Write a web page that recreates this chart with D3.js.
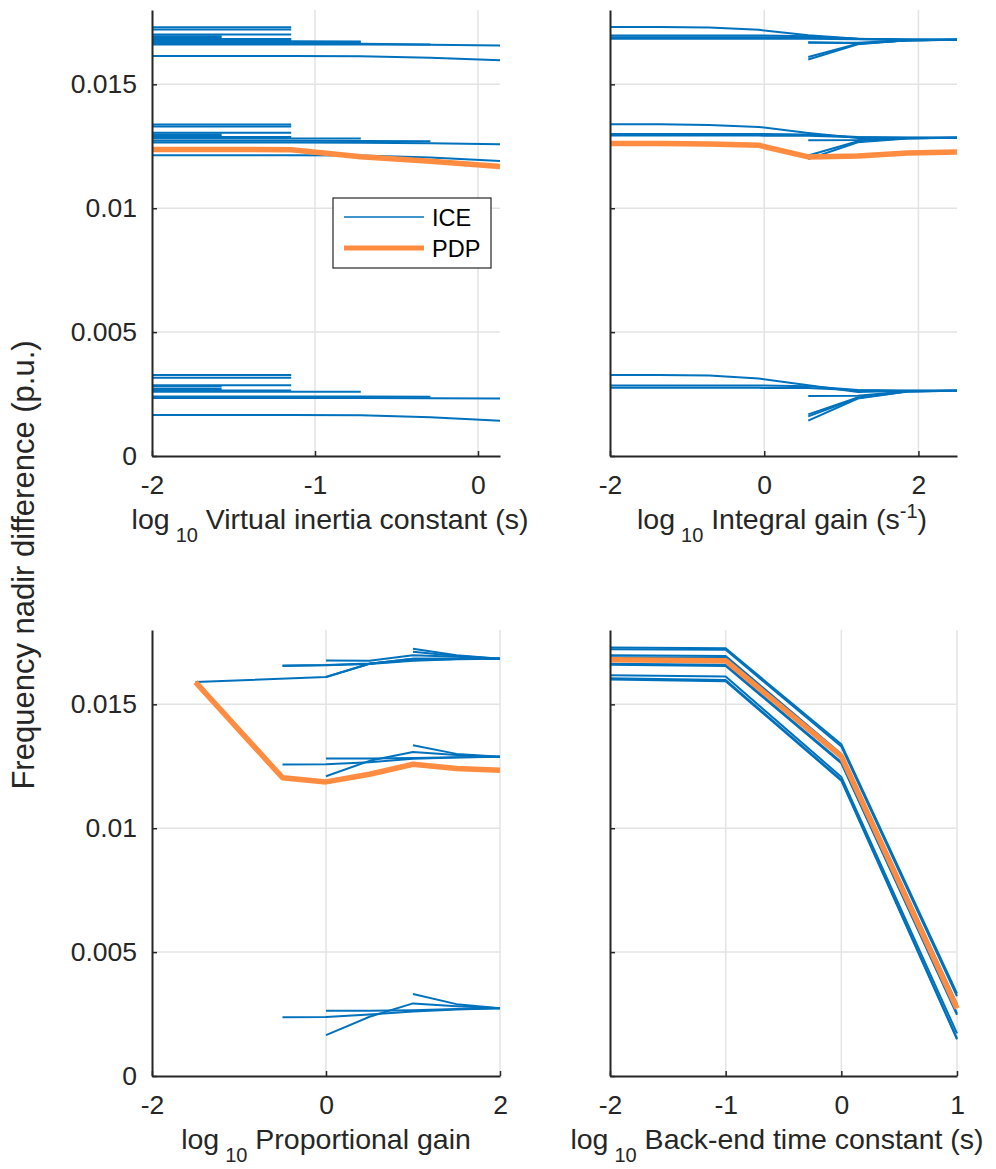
<!DOCTYPE html>
<html><head><meta charset="utf-8">
<script src="https://cdn.jsdelivr.net/npm/d3@7"></script>
<style>
body{margin:0;background:#fff;}
svg{display:block;font-family:"Liberation Sans",Arial,Helvetica,sans-serif;}
</style></head><body>
<svg id="chart" width="996" height="1169"></svg>
<script>
// ---------------- data ----------------
const yTicks = [0, 0.005, 0.01, 0.015];

// Virtual inertia constant (log10 s)
const viGrid = [-2, -1.573, -1.146, -0.719, -0.292, 0.135];
const viTicks = [-2, -1, 0];
const viIce = [
  [0.01730, 0.01730, 0.01730],
  [0.01721, 0.01721, 0.01721],
  [0.01701, 0.01701, 0.01701],
  [0.01694, 0.01694],
  [0.01689, 0.01689],
  [0.01683, 0.01683, 0.01683],
  [0.01677, 0.01677, 0.01677],
  [0.01674, 0.01674, 0.01674, 0.01673],
  [0.01669, 0.01669, 0.01669, 0.01668],
  [0.01665, 0.01665, 0.01665, 0.01664, 0.01661],
  [0.01661, 0.01661, 0.01661, 0.01661, 0.01660, 0.01657],
  [0.01614, 0.01614, 0.01614, 0.01613, 0.01607, 0.01597],
  [0.01338, 0.01338, 0.01338],
  [0.01330, 0.01330, 0.01330],
  [0.01305, 0.01305, 0.01305],
  [0.01298, 0.01298],
  [0.01291, 0.01291],
  [0.01287, 0.01287, 0.01287],
  [0.01281, 0.01281, 0.01281, 0.01281],
  [0.01272, 0.01272, 0.01272, 0.01271, 0.01270],
  [0.01265, 0.01265, 0.01265, 0.01264, 0.01262, 0.01258],
  [0.01214, 0.01214, 0.01214, 0.01213, 0.01205, 0.01191],
  [0.00327, 0.00327, 0.00327],
  [0.00316, 0.00316, 0.00316],
  [0.00286, 0.00286, 0.00286],
  [0.00280, 0.00280],
  [0.00270, 0.00270],
  [0.00264, 0.00264, 0.00264],
  [0.00259, 0.00259, 0.00259, 0.00259],
  [0.00240, 0.00240, 0.00240, 0.00240, 0.00239],
  [0.00234, 0.00234, 0.00234, 0.00234, 0.00233, 0.00232],
  [0.00165, 0.00165, 0.00165, 0.00164, 0.00156, 0.00142]
];
const viPdp = [0.01237, 0.01237, 0.01236, 0.01208, 0.01190, 0.01168];

// Integral gain (log10 1/s)
const igGrid = [-2, -1.357, -0.714, -0.071, 0.571, 1.214, 1.857, 2.5];
const igTicks = [-2, 0, 2];
const igIce = [
  [0.01731, 0.01731, 0.01729, 0.01720, 0.01698, 0.01684, 0.01681, 0.01680],
  [0.01697, 0.01697, 0.01697, 0.01697, 0.01694, 0.01683, 0.01680, 0.01680],
  [0.01690, 0.01690, 0.01690, 0.01690, 0.01689, 0.01684, 0.01680, 0.01680],
  [0.01684, 0.01684, 0.01684, 0.01684, 0.01684, 0.01682, 0.01680, 0.01680],
  [null, null, null, null, 0.01668, 0.01668, 0.01677, 0.01680],
  [null, null, null, null, 0.01670, 0.01666, 0.01677, 0.01680],
  [null, null, null, null, 0.01610, 0.01664, 0.01678, 0.01680],
  [null, null, null, null, 0.01600, 0.01662, 0.01678, 0.01680],
  [0.01339, 0.01339, 0.01336, 0.01328, 0.01304, 0.01283, 0.01284, 0.01284],
  [0.01300, 0.01300, 0.01300, 0.01300, 0.01298, 0.01287, 0.01284, 0.01284],
  [0.01293, 0.01293, 0.01293, 0.01293, 0.01292, 0.01286, 0.01284, 0.01284],
  [null, null, null, null, 0.01274, 0.01275, 0.01282, 0.01284],
  [null, null, null, null, 0.01213, 0.01270, 0.01282, 0.01284],
  [null, null, null, null, 0.01198, 0.01266, 0.01281, 0.01284],
  [0.00327, 0.00327, 0.00325, 0.00313, 0.00286, 0.00258, 0.00263, 0.00263],
  [0.00285, 0.00285, 0.00285, 0.00285, 0.00282, 0.00266, 0.00263, 0.00263],
  [0.00275, 0.00275, 0.00275, 0.00275, 0.00274, 0.00265, 0.00263, 0.00263],
  [null, null, null, null, 0.00242, 0.00243, 0.00261, 0.00263],
  [null, null, null, null, 0.00168, 0.00236, 0.00261, 0.00263],
  [null, null, null, null, 0.00160, 0.00234, 0.00260, 0.00263],
  [null, null, null, null, 0.00143, 0.00232, 0.00260, 0.00263]
];
const igPdp = [0.01261, 0.01261, 0.01259, 0.01254, 0.01207, 0.01211, 0.01223, 0.01227];

// Proportional gain (log10)
const pgGrid = [-1.5, -0.5, 0, 0.5, 1, 1.5, 2];
const pgTicks = [-2, 0, 2];
const pgIce = [
  [0.01590, null, 0.01610, 0.01664, 0.01684, 0.01684, 0.01684],
  [null, null, 0.01610, 0.01664, 0.01684, 0.01684, 0.01684],
  [null, 0.01657, 0.01659, 0.01665, 0.01678, 0.01683, 0.01684],
  [null, 0.01655, 0.01658, 0.01663, 0.01676, 0.01682, 0.01684],
  [null, null, 0.01677, 0.01676, 0.01698, 0.01692, 0.01684],
  [null, null, null, null, 0.01724, 0.01698, 0.01684],
  [null, null, null, null, 0.01712, 0.01695, 0.01684],
  [null, 0.01257, 0.01258, 0.01266, 0.01280, 0.01285, 0.01288],
  [null, null, 0.01281, 0.01281, 0.01283, 0.01286, 0.01288],
  [null, null, 0.01210, 0.01272, 0.01308, 0.01296, 0.01288],
  [null, null, null, null, 0.01335, 0.01300, 0.01288],
  [null, 0.00237, 0.00238, 0.00248, 0.00260, 0.00268, 0.00273],
  [null, null, 0.00263, 0.00263, 0.00265, 0.00270, 0.00273],
  [null, null, 0.00165, 0.00239, 0.00293, 0.00282, 0.00273],
  [null, null, null, null, 0.00331, 0.00290, 0.00273]
];
const pgPdp = [0.01590, 0.01204, 0.01187, 0.01218, 0.01258, 0.01241, 0.01234];

// Back-end time constant (log10 s)
const btGrid = [-2, -1, 0, 1];
const btTicks = [-2, -1, 0, 1];
const btIce = [
  [0.01729, 0.01726, 0.01339, 0.00333],
  [0.01722, 0.01720, 0.01330, 0.00322],
  [0.01698, 0.01695, 0.01300, 0.00290],
  [0.01690, 0.01688, 0.01295, 0.00282],
  [0.01664, 0.01660, 0.01267, 0.00253],
  [0.01660, 0.01655, 0.01262, 0.00247],
  [0.01617, 0.01612, 0.01207, 0.00172],
  [0.01605, 0.01598, 0.01196, 0.00152],
  [0.01600, 0.01593, 0.01192, 0.00148]
];
const btPdp = [0.01680, 0.01676, 0.01290, 0.00273];

const legendLabels = ["ICE", "PDP"];
const yLabel = "Frequency nadir difference (p.u.)";

// ---------------- layout ----------------
const ICE_COLOR = "#0072BD", PDP_COLOR = "#FF8C40";
const AX_COLOR = "#262626", GRID_COLOR = "#e3e3e3";
const TICK_FS = 26.5, LABEL_FS = 28.5, SUB_FS = 20;

const panels = [
  {grid: viGrid, ice: viIce, pdp: viPdp, ticks: viTicks, xdom: [-2, 0.135],
   x0: 152, x1: 500, y0: 10, y1: 456, yLabels: true, labelX: 330,
   label: [["log"], ["10", "sub"], [" Virtual inertia constant (s)"]]},
  {grid: igGrid, ice: igIce, pdp: igPdp, ticks: igTicks, xdom: [-2, 2.5],
   x0: 610, x1: 957, y0: 10, y1: 456, yLabels: false, labelX: 782,
   label: [["log"], ["10", "sub"], [" Integral gain (s"], ["-1", "sup"], [")"]]},
  {grid: pgGrid, ice: pgIce, pdp: pgPdp, ticks: pgTicks, xdom: [-2, 2],
   x0: 152, x1: 500, y0: 630, y1: 1076, yLabels: true, labelX: 326,
   label: [["log"], ["10", "sub"], [" Proportional gain"]]},
  {grid: btGrid, ice: btIce, pdp: btPdp, ticks: btTicks, xdom: [-2, 1],
   x0: 610, x1: 957, y0: 630, y1: 1076, yLabels: false, labelX: 777,
   label: [["log"], ["10", "sub"], [" Back-end time constant (s)"]]}
];

const svg = d3.select("#chart");

panels.forEach((p, pi) => {
  const x = d3.scaleLinear().domain(p.xdom).range([p.x0, p.x1]);
  const y = d3.scaleLinear().domain([0, 0.018]).range([p.y1, p.y0]);
  const g = svg.append("g");

  // grid
  g.append("g").selectAll("line").data(p.ticks.filter(t => t > p.xdom[0])).join("line")
    .attr("x1", d => x(d)).attr("x2", d => x(d)).attr("y1", p.y0).attr("y2", p.y1)
    .attr("stroke", GRID_COLOR).attr("stroke-width", 1.5);
  g.append("g").selectAll("line").data(yTicks.filter(t => t > 0)).join("line")
    .attr("x1", p.x0).attr("x2", p.x1).attr("y1", d => y(d)).attr("y2", d => y(d))
    .attr("stroke", GRID_COLOR).attr("stroke-width", 1.5);

  const line = d3.line().x(d => x(d[0])).y(d => y(d[1]));
  const pts = vals => p.grid.map((gx, i) => [gx, vals[i]]).filter(d => d[1] != null);

  g.append("g").selectAll("path").data(p.ice).join("path")
    .attr("d", v => line(pts(v)))
    .attr("fill", "none").attr("stroke", ICE_COLOR).attr("stroke-width", 2)
    .attr("stroke-linejoin", "round");
  g.append("path").attr("d", line(pts(p.pdp)))
    .attr("fill", "none").attr("stroke", PDP_COLOR).attr("stroke-width", 5.5)
    .attr("stroke-linejoin", "round");

  // axes
  const ya = d3.axisLeft(y).tickValues(yTicks).tickSizeInner(-5).tickSizeOuter(0).tickPadding(15)
    .tickFormat(d => p.yLabels ? (d === 0 ? "0" : String(d)) : "");
  const yg = g.append("g").attr("transform", `translate(${p.x0},0)`).call(ya);
  const xa = d3.axisBottom(x).tickValues(p.ticks).tickSizeInner(-5).tickSizeOuter(0).tickPadding(19)
    .tickFormat(d => String(d));
  const xg = g.append("g").attr("transform", `translate(0,${p.y1})`).call(xa);
  [yg, xg].forEach(a => {
    a.select(".domain").attr("stroke", AX_COLOR).attr("stroke-width", 2);
    a.selectAll(".tick line").attr("stroke", AX_COLOR).attr("stroke-width", 1.5);
    a.selectAll(".tick text").attr("fill", "#262626").attr("font-size", TICK_FS)
      .attr("font-family", '"Liberation Sans",Arial,sans-serif');
  });

  // x label with sub/superscripts
  const t = g.append("text").attr("x", p.labelX).attr("y", p.y1 + 73)
    .attr("text-anchor", "middle").attr("font-size", LABEL_FS).attr("fill", "#262626");
  let shift = 0;
  p.label.forEach(([s, kind]) => {
    const ts = t.append("tspan").text(s);
    let target = 0, fs = LABEL_FS;
    if (kind === "sub") { target = 13; fs = SUB_FS; ts.attr("dx", 6); }
    if (kind === "sup") { target = -11; fs = SUB_FS; }
    ts.attr("dy", target - shift).attr("font-size", fs);
    shift = target;
  });
});

// y label
svg.append("text").attr("transform", "translate(34,565) rotate(-90)")
  .attr("text-anchor", "middle").attr("font-size", 31).attr("fill", "#262626")
  .text(yLabel);

// legend
const lg = svg.append("g");
lg.append("rect").attr("x", 333).attr("y", 198).attr("width", 158).attr("height", 70)
  .attr("fill", "#fff").attr("stroke", AX_COLOR).attr("stroke-width", 1.2);
const legendStyles = [{c: ICE_COLOR, w: 1.6}, {c: PDP_COLOR, w: 5}];
legendLabels.forEach((lab, i) => {
  const yy = 217 + i * 31;
  lg.append("line").attr("x1", 344).attr("x2", 424).attr("y1", yy).attr("y2", yy)
    .attr("stroke", legendStyles[i].c).attr("stroke-width", legendStyles[i].w);
  lg.append("text").attr("x", 432).attr("y", yy + 9).attr("font-size", 23.5)
    .attr("fill", "#000").text(lab);
});
</script>
</body></html>
